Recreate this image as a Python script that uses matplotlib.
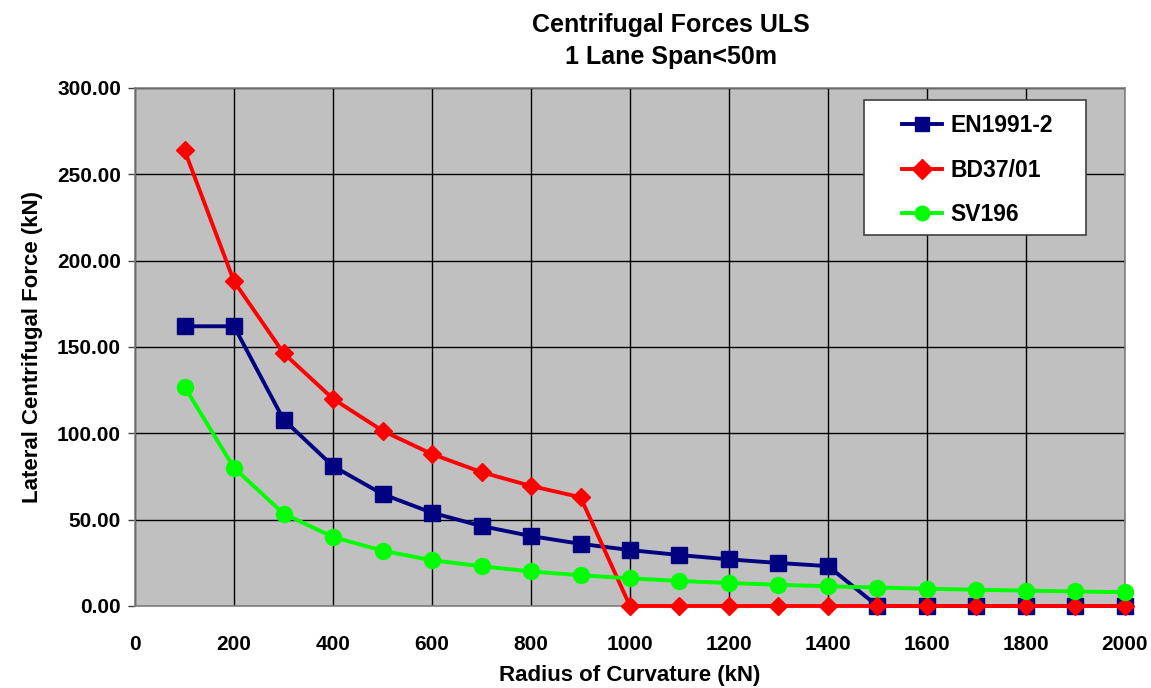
import matplotlib
matplotlib.use("Agg")
import matplotlib.pyplot as plt
from matplotlib.ticker import MultipleLocator, FormatStrFormatter
from matplotlib.patches import Rectangle

plt.rcParams['font.family'] = ['Liberation Sans', 'DejaVu Sans']
plt.rcParams['font.weight'] = 'bold'

radius = [100, 200, 300, 400, 500, 600, 700, 800, 900, 1000,
          1100, 1200, 1300, 1400, 1500, 1600, 1700, 1800, 1900, 2000]
en1991 = [162, 162, 108, 81, 64.8, 54, 46.3, 40.5, 36, 32.4,
          29.5, 27, 24.9, 23.1, 0, 0, 0, 0, 0, 0]
bd37 = [264, 188, 146.5, 120, 101.5, 88, 77.5, 69.5, 63, 0,
        0, 0, 0, 0, 0, 0, 0, 0, 0, 0]
sv196 = [127, 80, 53.5, 40, 32, 26.5, 23, 20, 17.8, 16,
         14.5, 13.3, 12.3, 11.4, 10.7, 10, 9.4, 8.9, 8.4, 8]

fig = plt.figure(figsize=(11.51, 6.88), dpi=100)
ax = fig.add_axes([0.1173, 0.1192, 0.8601, 0.7529])
ax.set_facecolor('#C0C0C0')

ax.plot(radius, en1991, color='#000080', lw=2.8, marker='s', ms=11.5, label='EN1991-2', clip_on=False, zorder=3)
ax.plot(radius, bd37, color='#FF0000', lw=2.8, marker='D', ms=9, label='BD37/01', clip_on=False, zorder=4)
ax.plot(radius, sv196, color='#00FF00', lw=2.8, marker='o', ms=11.5, label='SV196', clip_on=False, zorder=5)

ax.set_xlim(0, 2000)
ax.set_ylim(0, 300)
ax.xaxis.set_major_locator(MultipleLocator(200))
ax.yaxis.set_major_locator(MultipleLocator(50))
ax.yaxis.set_major_formatter(FormatStrFormatter('%.2f'))
ax.grid(True, color='black', lw=1.0, zorder=1)
ax.set_axisbelow(True)
for s in ax.spines.values():
    s.set_color('#808080')
    s.set_linewidth(1.2)

ax.tick_params(axis='x', length=0, pad=21, labelsize=15)
ax.tick_params(axis='y', length=5, width=1, color='#404040', pad=5, labelsize=15, direction='out')
for lab in ax.get_xticklabels() + ax.get_yticklabels():
    lab.set_fontweight('bold')

ax.set_xlabel('Radius of Curvature (kN)', fontsize=16, fontweight='bold', labelpad=8)
ax.set_ylabel('Lateral Centrifugal Force (kN)', fontsize=16, fontweight='bold', labelpad=10)
fig.text(0.5826, 0.963, 'Centrifugal Forces ULS', ha='center', va='center', fontsize=18, fontweight='bold')
fig.text(0.5826, 0.917, '1 Lane Span<50m', ha='center', va='center', fontsize=18, fontweight='bold')

# legend box
box = Rectangle((0.7364, 0.7162), 0.2242, 0.2606, transform=ax.transAxes,
                facecolor='white', edgecolor='#404040', lw=1.2, zorder=10)
ax.add_patch(box)
leg = ax.legend(loc='upper left', bbox_to_anchor=(0.7747, 0.950), frameon=False,
                handlelength=1.75, handletextpad=0.35, borderpad=0, labelspacing=0.95, borderaxespad=0,
                prop={'weight': 'bold', 'size': 16.5})
leg.set_zorder(11)
for h in leg.legend_handles:
    h.set_markersize(10.5)

fig.savefig('out.png', dpi=100, facecolor='white')
